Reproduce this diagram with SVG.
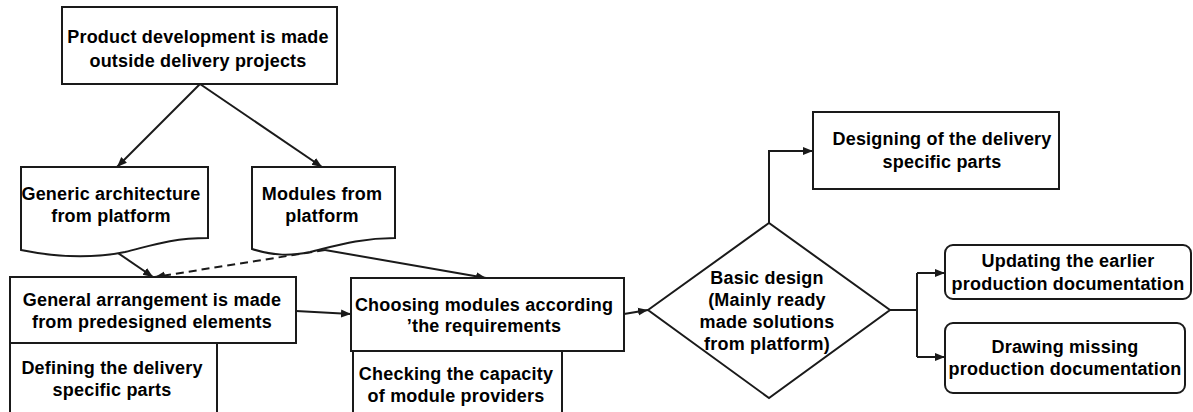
<svg xmlns="http://www.w3.org/2000/svg" width="1193" height="412" viewBox="0 0 1193 412">
<style>
.box{fill:#fff;stroke:#1a1a1a;stroke-width:2}
.t{font-family:"Liberation Sans",Arial,sans-serif;font-weight:bold;font-size:18px;letter-spacing:0.2px;fill:#000;text-anchor:middle}
.c{fill:none;stroke:#1a1a1a;stroke-width:2}
</style>
<defs>
<marker id="ah" viewBox="0 0 10 10" refX="10" refY="5" markerWidth="10" markerHeight="10" markerUnits="userSpaceOnUse" orient="auto">
<path d="M0,1 L10,5 L0,9 Z" fill="#1a1a1a"/>
</marker>
</defs>
<rect width="1193" height="412" fill="#fff"/>
<g id="connectors">
<path class="c" d="M200,84 L117,167" marker-end="url(#ah)"/>
<path class="c" d="M200,84 L322,167" marker-end="url(#ah)"/>
<path class="c" d="M115,251 L153,277" marker-end="url(#ah)"/>
<path class="c" d="M325,250 L155,277" stroke-dasharray="8,5" marker-end="url(#ah)"/>
<path class="c" d="M325,250 L486,278" marker-end="url(#ah)"/>
<path class="c" d="M296,311 L351,314" marker-end="url(#ah)"/>
<path class="c" d="M624,314 L648,310" marker-end="url(#ah)"/>
<path class="c" d="M769,223 L769,151 L813,151" marker-end="url(#ah)"/>
<path class="c" d="M890,310 L917,310"/>
<path class="c" d="M917,273 L917,357"/>
<path class="c" d="M917,273 L945,273" marker-end="url(#ah)"/>
<path class="c" d="M917,357 L945,357" marker-end="url(#ah)"/>
</g>
<g id="product-dev">
<rect class="box" x="62" y="7" width="275" height="77"/>
<text class="t" x="198" y="43">Product development is made</text>
<text class="t" x="198" y="67">outside delivery projects</text>
</g>
<g id="generic-arch">
<path class="box" d="M21,167 L208,167 L208,238 C170,238 150,246 125,252 C95,258 60,258 21,250 Z"/>
<text class="t" x="111" y="200">Generic architecture</text>
<text class="t" x="111" y="222">from platform</text>
</g>
<g id="modules">
<path class="box" d="M252,167 L395,167 L395,238 C360,238 335,246 310,252 C290,256 275,256 252,249 Z"/>
<text class="t" x="322" y="200">Modules from</text>
<text class="t" x="322" y="222">platform</text>
</g>
<g id="defining">
<rect class="box" x="10" y="343" width="207" height="80"/>
<text class="t" x="112" y="374">Defining the delivery</text>
<text class="t" x="112" y="396">specific parts</text>
</g>
<g id="general-arr">
<rect class="box" x="10" y="277" width="286" height="66"/>
<text class="t" x="152" y="306">General arrangement is made</text>
<text class="t" x="152" y="328">from predesigned elements</text>
</g>
<g id="checking">
<rect class="box" x="353" y="351" width="209" height="80"/>
<text class="t" x="456" y="380">Checking the capacity</text>
<text class="t" x="456" y="402">of module providers</text>
</g>
<g id="choosing">
<rect class="box" x="351" y="278" width="273" height="73"/>
<text class="t" x="484" y="311">Choosing modules according</text>
<text class="t" x="484" y="332">’the requirements</text>
</g>
<g id="basic-design">
<path class="box" d="M648,310 L769,223 L890,310 L769,398 Z"/>
<text class="t" x="767" y="284">Basic design</text>
<text class="t" x="767" y="306">(Mainly ready</text>
<text class="t" x="767" y="328">made solutions</text>
<text class="t" x="767" y="350">from platform)</text>
</g>
<g id="designing">
<rect class="box" x="813" y="112" width="246" height="77"/>
<text class="t" x="942" y="145">Designing of the delivery</text>
<text class="t" x="942" y="168">specific parts</text>
</g>
<g id="updating">
<rect class="box" x="945" y="245" width="246" height="54" rx="8"/>
<text class="t" x="1068" y="267">Updating the earlier</text>
<text class="t" x="1068" y="290">production documentation</text>
</g>
<g id="drawing">
<rect class="box" x="945" y="323" width="240" height="70" rx="8"/>
<text class="t" x="1065" y="353">Drawing missing</text>
<text class="t" x="1065" y="375">production documentation</text>
</g>
</svg>
